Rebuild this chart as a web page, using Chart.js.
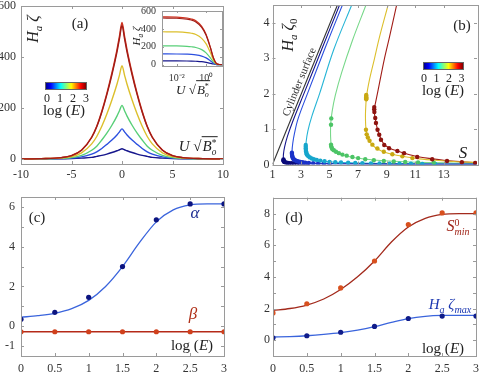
<!DOCTYPE html>
<html>
<head>
<meta charset="utf-8">
<script src="https://cdn.jsdelivr.net/npm/chart.js@4.4.0/dist/chart.umd.min.js"></script>
<style>
body { margin: 0; background: #fff; }
#wrap { position: relative; width: 481px; height: 372px; overflow: hidden; font-family: "Liberation Serif", serif; color: #222; }
canvas { position: absolute; }
.t { position: absolute; transform: translate(-50%, -50%); white-space: nowrap; line-height: 1; }
sub, sup { font-size: 0.68em; line-height: 0; }
.ss { display: inline-flex; flex-direction: column; vertical-align: middle; font-size: 0.62em; line-height: 0.95; }
.bar { position: absolute; height: 6px; border: 1px solid #666;
  background: linear-gradient(to right, #00008f 0%, #0000ff 12%, #00ffff 37%, #80ff80 50%, #ffff00 63%, #ff0000 87%, #800000 100%); }
.rad { border-top: 1px solid #222; padding: 1px 1px 0 1px; }
</style>
</head>
<body>
<div id="wrap">
  <canvas id="ca" width="240" height="186" style="left:0;top:0"></canvas>
  <canvas id="ci" width="100" height="100" style="left:130px;top:0"></canvas>
  <canvas id="cb" width="241" height="186" style="left:240px;top:0"></canvas>
  <canvas id="cc" width="240" height="186" style="left:0;top:186px"></canvas>
  <canvas id="cd" width="241" height="186" style="left:240px;top:186px"></canvas>

  <!-- panel (a) -->
  <div class="t" style="left:80px;top:23px;font-size:15px">(a)</div>
  <div class="t" style="left:33px;top:29px;font-size:16px;transform:translate(-50%,-50%) rotate(-90deg)"><i>H</i><sub><i>a</i></sub> <i>ζ</i></div>
  <div class="bar" style="left:45px;top:82px;width:40px"></div>
  <div class="t" style="left:47px;top:98px;font-size:12px">0</div>
  <div class="t" style="left:60px;top:98px;font-size:12px">1</div>
  <div class="t" style="left:73px;top:98px;font-size:12px">2</div>
  <div class="t" style="left:86px;top:98px;font-size:12px">3</div>
  <div class="t" style="left:64px;top:110px;font-size:15px">log (<i>E</i>)</div>
  <div class="t" style="left:198px;top:148px;font-size:15px"><i>U</i> √<span class="rad"><i>B</i><span class="ss"><span>*</span><span><i>o</i></span></span></span></div>
  <div class="t" style="left:136px;top:36px;font-size:11px;transform:translate(-50%,-50%) rotate(-90deg)"><i>H</i><sub><i>a</i></sub> <i>ζ</i></div>
  <div class="t" style="left:193px;top:91px;font-size:13px"><i>U</i> √<span class="rad"><i>B</i><span class="ss"><span>*</span><span><i>o</i></span></span></span></div>

  <!-- panel (b) -->
  <div class="t" style="left:462px;top:25px;font-size:15px">(b)</div>
  <div class="t" style="left:288px;top:35px;font-size:16px;transform:translate(-50%,-50%) rotate(-90deg)"><i>H</i><sub><i>a</i></sub> <i>ζ</i><sub>0</sub></div>
  <div class="t" style="left:299px;top:82px;font-size:11px;color:#333;transform:translate(-50%,-50%) rotate(-67.8deg)">Cylinder surface</div>
  <div class="bar" style="left:423px;top:62px;width:39px"></div>
  <div class="t" style="left:424px;top:78px;font-size:12px">0</div>
  <div class="t" style="left:436.5px;top:78px;font-size:12px">1</div>
  <div class="t" style="left:449px;top:78px;font-size:12px">2</div>
  <div class="t" style="left:461.5px;top:78px;font-size:12px">3</div>
  <div class="t" style="left:443px;top:90px;font-size:15px">log (<i>E</i>)</div>
  <div class="t" style="left:463px;top:152px;font-size:17px"><i>S</i></div>

  <!-- panel (c) -->
  <div class="t" style="left:37px;top:217px;font-size:15px">(c)</div>
  <div class="t" style="left:195px;top:212px;font-size:17px;color:#1a2a90"><i>α</i></div>
  <div class="t" style="left:193px;top:313px;font-size:17px;color:#b03018"><i>β</i></div>
  <div class="t" style="left:192px;top:345px;font-size:15px">log (<i>E</i>)</div>

  <!-- panel (d) -->
  <div class="t" style="left:294px;top:217px;font-size:15px">(d)</div>
  <div class="t" style="left:458px;top:227px;font-size:16px;color:#a02418"><i>S</i><span class="ss"><span>0</span><span><i>min</i></span></span></div>
  <div class="t" style="left:450px;top:304px;font-size:15px;color:#1a36b0"><i>H</i><sub><i>a</i></sub> <i>ζ</i><sub><i>max</i></sub></div>
  <div class="t" style="left:443px;top:348px;font-size:15px">log (<i>E</i>)</div>
</div>

<script>
// ---- panel (a): H_a zeta vs U sqrt(B*) ----
const aX = [-10, -8, -6, -5, -4, -3, -2.5, -2, -1.5, -1, -0.5, -0.25, 0, 0.25, 0.5, 1, 1.5, 2, 2.5, 3, 4, 5, 6, 8, 10];
const aRed = [0, 1, 5, 13, 35, 86, 128, 187, 257, 337, 428, 482, 535, 482, 428, 337, 257, 187, 128, 86, 35, 13, 5, 1, 0];
const aDarkRed = [0, 1, 5, 13, 34, 84, 126, 183, 252, 330, 419, 472, 524, 472, 419, 330, 252, 183, 126, 84, 34, 13, 5, 1, 0];
const aYellow = [0, 1, 4, 9, 24, 59, 88, 128, 176, 231, 293, 329, 366, 329, 293, 231, 176, 128, 88, 59, 24, 9, 4, 1, 0];
const aGreen = [0, 0, 2, 5, 14, 34, 50, 74, 101, 132, 168, 189, 210, 189, 168, 132, 101, 74, 50, 34, 14, 5, 2, 0, 0];
const aBlue = [0, 0, 1, 3, 8, 19, 28, 41, 57, 74, 94, 106, 118, 106, 94, 74, 57, 41, 28, 19, 8, 3, 1, 0, 0];
const aNavy = [0, 0, 0, 1, 3, 6, 10, 14, 19, 25, 32, 36, 40, 36, 32, 25, 19, 14, 10, 6, 3, 1, 0, 0, 0];

// inset, log x axis
const insX = [0.001, 0.01, 0.05, 0.1, 0.2, 0.5, 1, 2, 3, 5, 8, 12];
const insRed = [535, 532, 522, 511, 490, 428, 337, 187, 86, 13, 2, 0];
const insDarkRed = [522, 519, 509, 499, 478, 418, 329, 183, 84, 13, 2, 0];
const insYellow = [368, 366, 359, 351, 337, 294, 232, 129, 59, 9, 1, 0];
const insGreen = [210, 209, 205, 200, 192, 168, 132, 74, 34, 5, 1, 0];
const insBlue = [120, 119, 117, 115, 110, 96, 76, 42, 19, 3, 0, 0];
const insNavy = [42, 42, 41, 40, 38, 34, 26, 15, 7, 1, 0, 0];

// ---- panel (b): H_a zeta_0 vs S ----
const bWallS = [1, 5.55];
const bWallY = [0, 4.5];
const bNavyS = [5.7, 4.45, 3.2, 2.45, 2.05, 1.85, 1.77, 1.77, 1.85, 2.1, 2.6, 3.5, 6, 10, 15.3];
const bNavyY = [4.5, 3.25, 2, 1.25, 0.8, 0.5, 0.3, 0.15, 0.08, 0.045, 0.03, 0.02, 0.012, 0.008, 0.005];
const bNavyDotS = [1.77, 1.77, 1.78, 1.8, 1.84, 1.9, 1.98, 2.08, 2.2, 2.35, 2.5, 2.7, 2.9, 3.15, 3.45];
const bNavyDotY = [0.14, 0.12, 0.1, 0.085, 0.07, 0.06, 0.05, 0.045, 0.04, 0.035, 0.03, 0.028, 0.025, 0.022, 0.02];
const bBlueS = [5.9, 4.65, 3.45, 2.8, 2.55, 2.42, 2.37, 2.4, 2.55, 2.8, 3.3, 4.2, 6, 10, 15.3];
const bBlueY = [4.5, 3.25, 2, 1.3, 0.9, 0.6, 0.38, 0.22, 0.13, 0.085, 0.055, 0.035, 0.02, 0.01, 0.006];
const bBlueDotS = [2.36, 2.36, 2.37, 2.38, 2.4, 2.43, 2.47, 2.53, 2.6, 2.7, 2.82, 2.96, 3.12, 3.3, 3.55, 3.85, 4.2, 4.6, 5.0];
const bBlueDotY = [0.33, 0.3, 0.27, 0.24, 0.21, 0.18, 0.155, 0.135, 0.115, 0.1, 0.085, 0.072, 0.062, 0.052, 0.044, 0.037, 0.03, 0.025, 0.02];
const bCyanS = [6.55, 5.3, 4.3, 3.75, 3.48, 3.36, 3.34, 3.4, 3.55, 3.85, 4.4, 5.2, 6.5, 8.5, 11.5, 15.3];
const bCyanY = [4.5, 3.25, 2, 1.35, 0.95, 0.65, 0.45, 0.3, 0.21, 0.15, 0.1, 0.07, 0.045, 0.03, 0.02, 0.012];
const bCyanDotS = [3.33, 3.33, 3.33, 3.34, 3.35, 3.37, 3.4, 3.45, 3.52, 3.62, 3.75, 3.9, 4.1, 4.35, 4.65, 5.0, 5.4, 5.8, 6.3, 6.8, 7.3, 7.9, 8.5, 9.2, 9.9, 10.7, 11.5, 12.4];
const bCyanDotY = [0.55, 0.5, 0.45, 0.41, 0.37, 0.33, 0.29, 0.26, 0.23, 0.2, 0.17, 0.15, 0.13, 0.11, 0.09, 0.075, 0.065, 0.055, 0.048, 0.042, 0.036, 0.032, 0.028, 0.025, 0.022, 0.02, 0.018, 0.016];
const bGreenS = [7.55, 6.6, 5.85, 5.4, 5.18, 5.08, 5.07, 5.12, 5.25, 5.5, 5.9, 6.5, 7.3, 8.3, 9.5, 11, 13, 15.3];
const bGreenY = [4.5, 3.5, 2.6, 1.95, 1.5, 1.15, 0.8, 0.55, 0.43, 0.34, 0.27, 0.21, 0.16, 0.12, 0.09, 0.065, 0.045, 0.03];
const bGreenDotS = [5.12, 5.1, 5.1, 5.12, 5.15, 5.2, 5.3, 5.45, 5.65, 5.9, 6.2, 6.6, 7.0, 7.5, 8.1, 8.8, 9.5, 10.3, 11.2, 12.3];
const bGreenDotY = [1.3, 1.12, 0.56, 0.51, 0.47, 0.43, 0.4, 0.36, 0.32, 0.28, 0.25, 0.21, 0.18, 0.15, 0.12, 0.1, 0.085, 0.07, 0.06, 0.05];
const bYellowS = [9.1, 8.5, 8.13, 7.8, 7.6, 7.52, 7.53, 7.6, 7.72, 7.9, 8.2, 8.6, 9.1, 9.7, 10.4, 11.3, 12.4, 13.7, 15.3];
const bYellowY = [4.5, 3.6, 2.96, 2.4, 1.95, 1.5, 1.1, 0.87, 0.72, 0.6, 0.48, 0.39, 0.32, 0.26, 0.21, 0.16, 0.12, 0.085, 0.06];
const bYellowDotS = [7.57, 7.57, 7.57, 7.57, 7.57, 7.55, 7.6, 7.68, 7.8, 8.0, 8.35, 8.8, 9.4, 10.1, 10.8];
const bYellowDotY = [1.96, 1.93, 1.9, 1.87, 1.84, 0.98, 0.85, 0.76, 0.67, 0.56, 0.45, 0.36, 0.29, 0.23, 0.18];
const bRedS = [9.7, 9.2, 8.83, 8.5, 8.25, 8.15, 8.14, 8.2, 8.27, 8.36, 8.48, 8.62, 8.85, 9.2, 9.75, 10.3, 11.2, 12.2, 13.2, 14.3, 15.3];
const bRedY = [4.5, 3.6, 2.96, 2.3, 1.8, 1.6, 1.45, 1.3, 1.15, 0.98, 0.84, 0.7, 0.56, 0.46, 0.38, 0.31, 0.22, 0.16, 0.11, 0.075, 0.05];
const bRedDotS = [8.13, 8.13, 8.14, 8.2, 8.25, 8.36, 8.48, 8.6, 8.83, 9.17, 9.75, 10.22, 11.14, 12.19, 13.23, 14.27, 15.2];
const bRedDotY = [1.62, 1.56, 1.48, 1.31, 1.17, 0.98, 0.84, 0.7, 0.55, 0.46, 0.38, 0.32, 0.21, 0.15, 0.1, 0.065, 0.045];

// ---- panels (c), (d): fit parameters vs log(E) ----
const logE = [0, 0.5, 1, 1.5, 2, 2.5, 3];
const fitE = [0, 0.25, 0.5, 0.75, 1, 1.25, 1.5, 1.75, 2, 2.25, 2.5, 2.75, 3];
const cAlpha = [0.35, 0.7, 1.45, 3.0, 5.35, 6.15, 6.15];
const cAlphaFit = [0.45, 0.53, 0.65, 0.88, 1.3, 2.0, 3.0, 4.2, 5.25, 5.85, 6.1, 6.15, 6.15];
const cBeta = [-0.28, -0.28, -0.28, -0.28, -0.28, -0.28, -0.28];
const dSmin = [1.72, 2.3, 3.3, 5.0, 7.3, 8.04, 8.05];
const dSminFit = [1.88, 2.0, 2.22, 2.6, 3.2, 4.0, 5.0, 6.2, 7.15, 7.7, 7.95, 8.0, 8.0];
const dZmax = [0.15, 0.28, 0.5, 0.87, 1.37, 1.52, 1.52];
const dZmaxFit = [0.2, 0.23, 0.28, 0.36, 0.47, 0.63, 0.85, 1.12, 1.36, 1.5, 1.56, 1.57, 1.57];

const serif = 'Liberation Serif';
const C = {
  navy: '#16168c', blue: '#2b4fdf', cyan: '#27b5d6', green: '#58cf78',
  yellow: '#dcbf2c', red: '#d0321f', darkred: '#a11c16'
};

function pts(xs, ys) { return xs.map((x, i) => ({x: x, y: ys[i]})); }
function curve(xs, ys, color, w, smooth) {
  const d = {data: pts(xs, ys), showLine: true, borderColor: color, borderWidth: w || 1.3,
             pointRadius: 0, fill: false};
  if (smooth === 'mono') d.cubicInterpolationMode = 'monotone';
  else d.tension = smooth || 0;
  return d;
}
function dots(xs, ys, color, r) {
  return {data: pts(xs, ys), showLine: false, pointRadius: r || 2.2, pointBackgroundColor: color,
          pointBorderWidth: 0, borderColor: color};
}

// box around the plot with inward tick marks on all four sides
function frame(len) {
  return {
    id: 'frame',
    afterDraw(chart) {
      const a = chart.chartArea, ctx = chart.ctx, x = chart.scales.x, y = chart.scales.y;
      ctx.save();
      ctx.strokeStyle = '#9a9a9a';
      ctx.lineWidth = 1;
      ctx.beginPath();
      x.ticks.forEach(t => {
        const p = Math.round(x.getPixelForValue(t.value)) + 0.5;
        ctx.moveTo(p, a.bottom); ctx.lineTo(p, a.bottom - len);
        ctx.moveTo(p, a.top); ctx.lineTo(p, a.top + len);
      });
      y.ticks.forEach(t => {
        const p = Math.round(y.getPixelForValue(t.value)) + 0.5;
        ctx.moveTo(a.left, p); ctx.lineTo(a.left + len, p);
        ctx.moveTo(a.right, p); ctx.lineTo(a.right - len, p);
      });
      ctx.stroke();
      ctx.strokeRect(Math.round(a.left) + 0.5, Math.round(a.top) + 0.5,
                     Math.round(a.right - a.left), Math.round(a.bottom - a.top));
      ctx.restore();
    }
  };
}

function axis(pos, type, min, max, vals, size, pad, fmt, fs) {
  const horiz = pos === 'bottom';
  return {
    type: type, position: pos, min: min, max: max,
    grid: {display: false, drawTicks: false}, border: {display: false},
    ticks: {color: '#333', font: {family: serif, size: fs || 12}, padding: pad,
            maxRotation: 0, autoSkip: false, callback: fmt || (v => String(v))},
    afterBuildTicks: s => { s.ticks = vals.map(v => ({value: v})); },
    afterFit: s => {
      if (horiz) { s.height = size; s.paddingLeft = 0; s.paddingRight = 0; }
      else { s.width = size; s.paddingTop = 0; s.paddingBottom = 0; }
    }
  };
}

function make(id, datasets, xs, ys, padding, tickLen) {
  return new Chart(document.getElementById(id), {
    type: 'scatter',
    data: {datasets: datasets},
    options: {
      responsive: false, animation: false, devicePixelRatio: 1,
      layout: {padding: padding},
      plugins: {legend: {display: false}, tooltip: {enabled: false}},
      scales: {x: xs, y: ys}
    },
    plugins: [frame(tickLen || 3)]
  });
}

make('ca', [
    curve(aX, aDarkRed, C.darkred, 1.4, 'mono'),
    curve(aX, aRed, C.red, 1.4, 'mono'),
    curve(aX, aYellow, C.yellow, 1.4, 'mono'),
    curve(aX, aGreen, C.green, 1.4, 'mono'),
    curve(aX, aBlue, C.blue, 1.4, 'mono'),
    curve(aX, aNavy, C.navy, 1.4, 'mono')
  ],
  axis('bottom', 'linear', -10, 10, [-10, -5, 0, 5, 10], 22, 4),
  axis('left', 'linear', -20, 600, [0, 200, 400, 600], 21, 5),
  {left: 0, top: 6, right: 17, bottom: 0});

make('ci', [
    curve(insX, insDarkRed, C.darkred, 1.2, 'mono'),
    curve(insX, insRed, C.red, 1.2, 'mono'),
    curve(insX, insYellow, C.yellow, 1.2, 'mono'),
    curve(insX, insGreen, C.green, 1.2, 'mono'),
    curve(insX, insBlue, C.blue, 1.2, 'mono'),
    curve(insX, insNavy, C.navy, 1.2, 'mono')
  ],
  axis('bottom', 'logarithmic', 0.001, 12, [0.01, 1], 34, 6, v => (v === 0.01 ? '10⁻²' : '10⁰'), 10),
  axis('left', 'linear', -15, 600, [0, 200, 400, 600], 32, 6, null, 10),
  {left: 0, top: 11, right: 8, bottom: 0}, 2);

make('cb', [
    dots(bRedDotS, bRedDotY, '#8e1410'),
    dots(bYellowDotS, bYellowDotY, '#c9a812'),
    dots(bGreenDotS, bGreenDotY, '#4cc466'),
    dots(bCyanDotS, bCyanDotY, '#17a6cc'),
    dots(bBlueDotS, bBlueDotY, '#1a32c8'),
    dots(bNavyDotS, bNavyDotY, '#0a0a7a'),
    curve(bWallS, bWallY, '#333', 1.1),
    curve(bNavyS, bNavyY, C.navy, 1.1, 0.35),
    curve(bBlueS, bBlueY, C.blue, 1.1, 0.35),
    curve(bCyanS, bCyanY, C.cyan, 1.1, 0.35),
    curve(bGreenS, bGreenY, '#78d88a', 1.1, 0.35),
    curve(bYellowS, bYellowY, C.yellow, 1.1, 0.35),
    curve(bRedS, bRedY, C.darkred, 1.1, 0.35)
  ],
  axis('bottom', 'linear', 1, 15.33, [1, 3, 5, 7, 9, 11, 13], 21.5, 3),
  axis('left', 'linear', 0, 4.5, [0, 1, 2, 3, 4], 32.5, 3),
  {left: 0, top: 5, right: 2.5, bottom: 0});

make('cc', [
    dots(logE, cAlpha, '#0c1480', 2.6),
    dots(logE, cBeta, '#d0401c', 2.6),
    curve(fitE, cAlphaFit, '#3a64dc', 1.3, 'mono'),
    curve(logE, cBeta, '#b52a18', 1.3)
  ],
  axis('bottom', 'linear', 0, 3, [0, 0.5, 1, 1.5, 2, 2.5, 3], 16, 6),
  axis('left', 'linear', -1.5, 6.5, [-1, 0, 1, 2, 3, 4, 5, 6], 21, 6,
       v => (v === -1 || v % 2 === 0 ? String(v) : '')),
  {left: 0, top: 11, right: 16, bottom: 0});

make('cd', [
    dots(logE, dSmin, '#d8501e', 2.6),
    dots(logE, dZmax, '#101c8a', 2.6),
    curve(fitE, dSminFit, '#a32a1c', 1.3, 'mono'),
    curve(fitE, dZmaxFit, '#3a64dc', 1.3, 'mono')
  ],
  axis('bottom', 'linear', 0, 3, [0, 0.5, 1, 1.5, 2, 2.5, 3], 16, 6),
  axis('left', 'linear', -1, 9, [0, 1, 2, 3, 4, 5, 6, 7, 8], 33, 3,
       v => (v % 2 === 0 ? String(v) : '')),
  {left: 0, top: 11.7, right: 5, bottom: 0});
</script>
</body>
</html>
